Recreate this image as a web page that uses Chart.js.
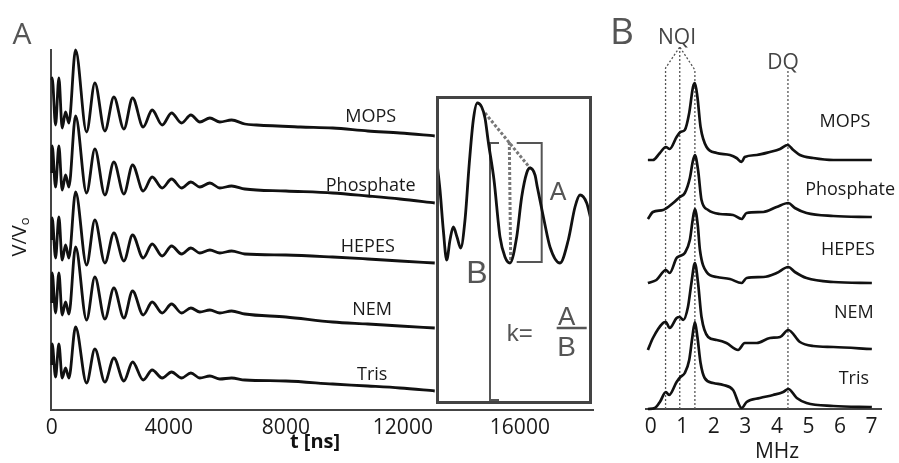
<!DOCTYPE html>
<html>
<head>
<meta charset="utf-8">
<title>ESEEM decays and spectra</title>
<script src="https://cdn.jsdelivr.net/npm/chart.js@4.4.1/dist/chart.umd.min.js"></script>
<style>
  body { margin: 0; background: #fff; }
  #figure { position: relative; width: 899px; height: 463px; font-family: 'Open Sans', sans-serif; color: #1a1a1a; }
  #figure canvas { position: absolute; }
  #timeCanvas { left: 0; top: 0; }
  #freqCanvas { left: 600px; top: 0; }
  #inset { position: absolute; left: 436px; top: 96px; width: 156px; height: 308px; box-sizing: border-box; border: 3px solid #444; background: #fff; }
  #inset canvas { left: 0; top: 0; }
  .txt { position: absolute; transform: translate(-50%, -50%); line-height: 1; white-space: nowrap; }
  .txt sub { font-size: 0.65em; vertical-align: -0.25em; }
</style>
</head>
<body>
<div id="figure">
  <canvas id="timeCanvas" width="600" height="463"></canvas>
  <canvas id="freqCanvas" width="299" height="463"></canvas>
  <div id="inset"><canvas id="insetCanvas" width="150" height="302"></canvas></div>

  <div class="txt" style="left:22px;top:33px;font-size:30px;color:#555">A</div>
  <div class="txt" style="left:622px;top:29px;font-size:37px;color:#555">B</div>
  <div class="txt" style="left:20px;top:237px;font-size:20px;transform:translate(-50%,-50%) rotate(-90deg)">V/V<sub>o</sub></div>
  <div class="txt" style="left:315px;top:441px;font-size:20px;font-weight:bold;color:#111">t [ns]</div>
  <div class="txt" style="left:777px;top:450px;font-size:21px">MHz</div>
  <div class="txt" style="left:677px;top:36px;font-size:21px;color:#444">NQI</div>
  <div class="txt" style="left:783px;top:61px;font-size:21px;color:#444">DQ</div>
</div>

<script>
// ---- time domain traces, [t (ns), stacked V/V0] ----
const sampleNames = ['MOPS', 'Phosphate', 'HEPES', 'NEM', 'Tris'];
const timeTicks = [0, 4000, 8000, 12000, 16000];

const mopsDecay = [
  [0, 3.30], [10, 3.32], [126, 2.85], [239, 3.32], [352, 2.82], [468, 2.98], [581, 2.87],
  [810, 3.60], [1186, 2.78], [1470, 3.27], [1812, 2.79], [2120, 3.13], [2462, 2.81],
  [2759, 3.12], [3122, 2.83], [3429, 3.00], [3771, 2.85], [4092, 2.97], [4434, 2.87],
  [4752, 2.95], [5060, 2.88], [5402, 2.92], [5744, 2.88], [6144, 2.90], [6598, 2.86],
  [7000, 2.85], [8500, 2.83], [9600, 2.82], [10800, 2.79], [11900, 2.77], [13090, 2.74]
];
const phosphateDecay = [
  [0, 2.37], [10, 2.64], [126, 2.23], [239, 2.64], [352, 2.20], [468, 2.35], [581, 2.23],
  [810, 2.94], [1186, 2.17], [1470, 2.61], [1812, 2.15], [2120, 2.48], [2462, 2.16],
  [2759, 2.45], [3122, 2.19], [3429, 2.33], [3771, 2.22], [4092, 2.31], [4434, 2.22],
  [4752, 2.28], [5060, 2.23], [5402, 2.27], [5744, 2.22], [6144, 2.24], [6598, 2.21],
  [8000, 2.19], [9600, 2.17], [10800, 2.14], [11900, 2.11], [13090, 2.07]
];
const hepesDecay = [
  [0, 1.70], [10, 1.92], [126, 1.52], [239, 1.93], [352, 1.50], [468, 1.65], [581, 1.52],
  [810, 2.18], [1186, 1.45], [1470, 1.90], [1812, 1.47], [2120, 1.77], [2462, 1.49],
  [2759, 1.75], [3122, 1.52], [3429, 1.66], [3771, 1.54], [4092, 1.64], [4434, 1.56],
  [4752, 1.62], [5060, 1.57], [5402, 1.60], [5744, 1.57], [6144, 1.59], [6598, 1.56],
  [8000, 1.55], [9600, 1.53], [10800, 1.51], [11900, 1.49], [13090, 1.47]
];
const nemDecay = [
  [0, 1.07], [10, 1.37], [126, 0.97], [239, 1.37], [352, 0.95], [468, 1.08], [581, 0.96],
  [810, 1.63], [1186, 0.90], [1470, 1.33], [1812, 0.91], [2120, 1.22], [2462, 0.92],
  [2759, 1.19], [3122, 0.95], [3429, 1.08], [3771, 0.97], [4092, 1.06], [4434, 0.97],
  [4752, 1.02], [5060, 0.98], [5402, 1.00], [5744, 0.97], [6144, 0.99], [6598, 0.96],
  [8000, 0.93], [9600, 0.88], [10800, 0.86], [11900, 0.84], [13090, 0.82]
];
const trisDecay = [
  [0, 0.45], [10, 0.66], [126, 0.33], [239, 0.66], [352, 0.32], [468, 0.42], [581, 0.32],
  [810, 0.83], [1186, 0.27], [1470, 0.61], [1812, 0.28], [2120, 0.52], [2462, 0.29],
  [2759, 0.48], [3122, 0.30], [3429, 0.40], [3771, 0.32], [4092, 0.38], [4434, 0.32],
  [4752, 0.37], [5060, 0.32], [5402, 0.34], [5744, 0.31], [6144, 0.32], [6598, 0.30],
  [8000, 0.29], [9600, 0.26], [10800, 0.24], [11900, 0.22], [13090, 0.19]
];

// ---- zoomed start of one decay, with the k = A/B construction ----
const insetTrace = [
  [322, 2.41], [365, 2.11], [408, 1.71], [452, 1.41], [495, 1.61], [538, 1.74], [586, 1.64],
  [634, 1.53], [690, 1.81], [746, 2.38], [798, 2.81], [850, 2.98], [907, 2.94], [950, 2.83],
  [993, 2.59], [1067, 2.21], [1145, 1.64], [1210, 1.44], [1275, 1.38], [1362, 1.64],
  [1427, 2.04], [1492, 2.28], [1535, 2.33], [1600, 2.26], [1630, 2.14], [1717, 1.81],
  [1795, 1.54], [1925, 1.38], [2033, 1.61], [2120, 1.94], [2185, 2.06], [2272, 1.98], [2337, 1.78]
];
const peakSlope = [[950, 2.88], [1535, 2.33]];
const troughDrop = [[1266, 2.59], [1284, 1.39]];
const bracketB = [[1132, 2.58], [1015, 2.58], [1015, 0.01], [1132, 0.01]];
const bracketA = [[1362, 2.58], [1687, 2.58], [1687, 1.39], [1362, 1.39]];
const fractionBar = [[1882, 0.73], [2272, 0.73]];

// ---- frequency domain spectra, [MHz, stacked intensity] ----
const freqTicks = [0, 1, 2, 3, 4, 5, 6, 7];

const mopsSpectrum = [
  [-0.09, 2.49], [0.07, 2.49], [0.29, 2.56], [0.48, 2.62], [0.60, 2.60], [0.82, 2.72],
  [0.94, 2.77], [1.08, 2.79], [1.22, 2.96], [1.34, 3.22], [1.40, 3.26], [1.48, 3.12],
  [1.58, 2.82], [1.77, 2.62], [2.09, 2.56], [2.51, 2.54], [2.72, 2.51], [2.88, 2.47],
  [2.98, 2.52], [3.36, 2.54], [3.78, 2.57], [4.10, 2.60], [4.34, 2.64], [4.52, 2.59],
  [4.73, 2.54], [5.15, 2.51], [5.79, 2.49], [6.42, 2.49], [7.01, 2.49]
];
const phosphateSpectrum = [
  [-0.09, 1.90], [0.07, 1.97], [0.39, 1.99], [0.71, 2.06], [0.92, 2.12], [1.08, 2.16],
  [1.24, 2.31], [1.33, 2.47], [1.40, 2.54], [1.50, 2.39], [1.61, 2.09], [1.82, 1.99],
  [2.19, 1.95], [2.61, 1.94], [2.88, 1.90], [3.04, 1.96], [3.57, 1.97], [3.99, 2.02],
  [4.36, 2.06], [4.57, 2.01], [4.94, 1.96], [5.79, 1.93], [7.01, 1.92]
];
const hepesSpectrum = [
  [-0.09, 1.26], [0.18, 1.29], [0.48, 1.39], [0.60, 1.36], [0.82, 1.51], [0.92, 1.53],
  [1.08, 1.56], [1.24, 1.69], [1.33, 1.89], [1.40, 2.00], [1.49, 1.84], [1.56, 1.59],
  [1.77, 1.37], [2.09, 1.32], [2.51, 1.30], [2.88, 1.26], [3.04, 1.31], [3.57, 1.32],
  [3.99, 1.36], [4.36, 1.42], [4.57, 1.37], [4.94, 1.31], [5.79, 1.27], [7.01, 1.26]
];
const nemSpectrum = [
  [-0.09, 0.59], [0.07, 0.71], [0.39, 0.86], [0.48, 0.87], [0.60, 0.81], [0.82, 0.91],
  [0.92, 0.92], [1.03, 0.89], [1.18, 1.02], [1.29, 1.26], [1.40, 1.46], [1.50, 1.26],
  [1.61, 0.92], [1.82, 0.72], [2.09, 0.69], [2.40, 0.66], [2.77, 0.59], [2.98, 0.66],
  [3.36, 0.66], [3.78, 0.71], [4.10, 0.72], [4.36, 0.79], [4.73, 0.67], [5.15, 0.63],
  [5.79, 0.62], [7.01, 0.60]
];
const trisSpectrum = [
  [-0.09, 0.00], [0.13, 0.01], [0.29, 0.07], [0.48, 0.17], [0.58, 0.14], [0.82, 0.27],
  [0.94, 0.32], [1.08, 0.36], [1.22, 0.49], [1.32, 0.72], [1.40, 0.87], [1.48, 0.72],
  [1.58, 0.46], [1.71, 0.31], [1.98, 0.26], [2.30, 0.24], [2.61, 0.19], [2.88, 0.01],
  [3.04, 0.07], [3.46, 0.11], [3.88, 0.14], [4.20, 0.17], [4.36, 0.20], [4.63, 0.11],
  [4.94, 0.06], [5.79, 0.03], [7.01, 0.02]
];

// NQI and DQ marker lines
const nqiLeft = [[0.47, 0], [0.47, 3.41], [0.92, 3.62]];
const nqiMiddle = [[0.92, 0], [0.92, 3.62]];
const nqiRight = [[1.40, 0], [1.40, 3.39], [0.92, 3.62]];
const dqLine = [[4.35, 0], [4.35, 3.39]];

const decayTraces = [mopsDecay, phosphateDecay, hepesDecay, nemDecay, trisDecay];
const spectra = [mopsSpectrum, phosphateSpectrum, hepesSpectrum, nemSpectrum, trisSpectrum];

// where the sample names sit, in axis units
const decayLabelAt = [[10900, 2.93], [10900, 2.24], [10800, 1.63], [10950, 1.00], [10950, 0.35]];
const spectrumLabelAt = [[6.16, 2.87], [6.32, 2.19], [6.25, 1.59], [6.44, 0.96], [6.44, 0.30]];

const tickFont = { family: 'Open Sans', size: 21 };

// draws text items anchored to data coordinates
function textPlugin(id, items) {
  return {
    id: id,
    afterDatasetsDraw(chart) {
      const { ctx, scales: { x, y } } = chart;
      ctx.save();
      ctx.textAlign = 'center';
      ctx.textBaseline = 'middle';
      items.forEach(it => {
        ctx.font = it.font;
        ctx.fillStyle = it.color;
        ctx.fillText(it.text, x.getPixelForValue(it.at[0]), y.getPixelForValue(it.at[1]));
      });
      ctx.restore();
    }
  };
}

function traceSet(data, width) {
  return {
    data: data,
    borderColor: '#111',
    borderWidth: width,
    cubicInterpolationMode: 'monotone',
    pointRadius: 0,
    fill: false,
    clip: false,
    order: 1
  };
}

function guideSet(data, color, width, dash) {
  return {
    data: data,
    borderColor: color,
    borderWidth: width,
    borderDash: dash,
    tension: 0,
    pointRadius: 0,
    fill: false,
    clip: false,
    order: 2
  };
}

const baseOptions = {
  responsive: false,
  animation: false,
  events: [],
  plugins: { legend: { display: false }, tooltip: { enabled: false } }
};

// Panel A: echo decays
new Chart(document.getElementById('timeCanvas'), {
  type: 'line',
  data: { datasets: decayTraces.map(d => traceSet(d, 2.8)) },
  options: {
    ...baseOptions,
    layout: { padding: { top: 50, right: 7, left: 0, bottom: 0 } },
    scales: {
      x: {
        type: 'linear', min: -30, max: 18500,
        grid: { display: false, drawTicks: false },
        border: { color: '#444', width: 2 },
        ticks: { font: tickFont, color: '#1a1a1a', padding: 5, maxRotation: 0, autoSkip: false, callback: v => String(v) },
        afterBuildTicks: s => { s.ticks = timeTicks.map(v => ({ value: v })); },
        afterFit: s => { s.height = 53; }
      },
      y: {
        min: 0, max: 3.6,
        grid: { display: false, drawTicks: false },
        border: { color: '#444', width: 2 },
        ticks: { display: false },
        afterFit: s => { s.width = 51; }
      }
    }
  },
  plugins: [textPlugin('decayNames', sampleNames.map((n, i) => ({
    text: n, at: decayLabelAt[i], font: '18px "Open Sans"', color: '#1a1a1a'
  })))]
});

// Inset: how k is measured from the first modulation
const insetFont = '"Liberation Sans", Arial, sans-serif';
new Chart(document.getElementById('insetCanvas'), {
  type: 'line',
  data: {
    datasets: [
      traceSet(insetTrace, 2.8),
      guideSet(bracketB, '#555', 2, []),
      guideSet(bracketA, '#555', 2, []),
      guideSet(peakSlope, '#777', 3, [3, 2]),
      guideSet(troughDrop, '#777', 3, [3, 2]),
      guideSet(fractionBar, '#555', 2.5, [])
    ]
  },
  options: {
    ...baseOptions,
    layout: { padding: 0 },
    scales: {
      x: { type: 'linear', min: 352, max: 2302, display: false },
      y: { min: 0, max: 3.02, display: false }
    }
  },
  plugins: [textPlugin('insetText', [
    { text: 'A', at: [1899, 2.08], font: '25px ' + insetFont, color: '#555' },
    { text: 'B', at: [846, 1.27], font: '32px ' + insetFont, color: '#555' },
    { text: 'k=', at: [1403, 0.67], font: '24px ' + insetFont, color: '#555' },
    { text: 'A', at: [2012, 0.83], font: '26px ' + insetFont, color: '#555' },
    { text: 'B', at: [2012, 0.53], font: '28px ' + insetFont, color: '#555' }
  ])]
});

// Panel B: spectra
new Chart(document.getElementById('freqCanvas'), {
  type: 'line',
  data: {
    datasets: spectra.map(d => traceSet(d, 2.7)).concat([
      guideSet(nqiLeft, '#555', 1.3, [2, 2]),
      guideSet(nqiMiddle, '#555', 1.3, [2, 2]),
      guideSet(nqiRight, '#555', 1.3, [2, 2]),
      guideSet(dqLine, '#555', 1.3, [2, 2])
    ])
  },
  options: {
    ...baseOptions,
    layout: { padding: { top: 40, right: 18, left: 46, bottom: 0 } },
    scales: {
      x: {
        type: 'linear', min: -0.15, max: 7.3,
        grid: { display: false, drawTicks: false },
        border: { color: '#444', width: 2 },
        ticks: { font: tickFont, color: '#1a1a1a', padding: 5, maxRotation: 0, autoSkip: false, callback: v => String(v) },
        afterBuildTicks: s => { s.ticks = freqTicks.map(v => ({ value: v })); },
        afterFit: s => { s.height = 54; }
      },
      y: { min: 0, max: 3.69, display: false }
    }
  },
  plugins: [textPlugin('spectrumNames', sampleNames.map((n, i) => ({
    text: n, at: spectrumLabelAt[i], font: '18px "Open Sans"', color: '#1a1a1a'
  })))]
});
</script>
</body>
</html>
